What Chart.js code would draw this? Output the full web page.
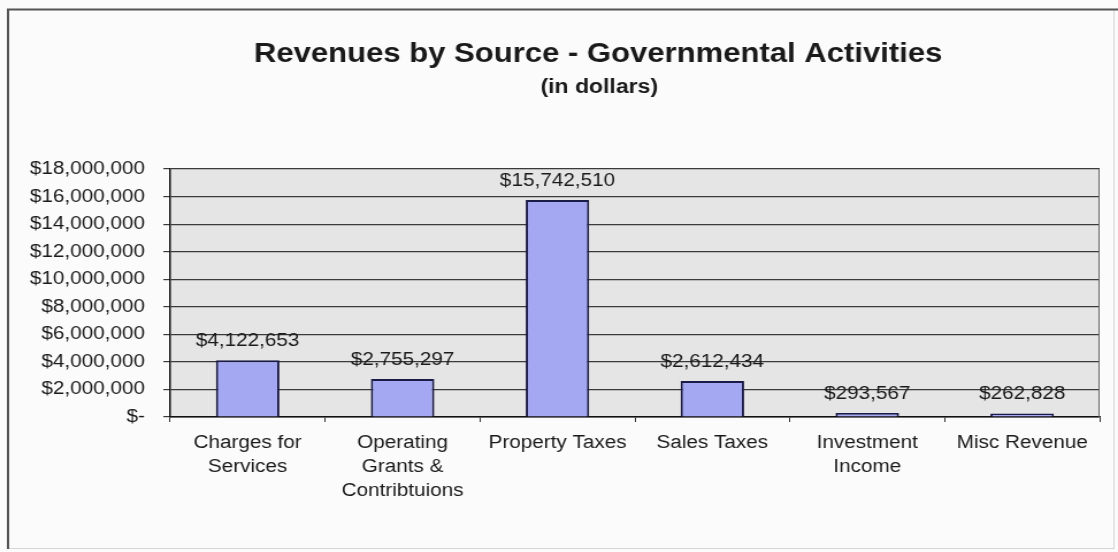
<!DOCTYPE html>
<html>
<head>
<meta charset="utf-8">
<title>Revenues by Source - Governmental Activities</title>
<script src="https://cdn.jsdelivr.net/npm/chart.js@4/dist/chart.umd.min.js"></script>
<style>
  html, body { margin: 0; padding: 0; background: #fbfbfb; }
  #revenue-chart { display: block; }
</style>
</head>
<body>
<!-- canvas is drawn narrow and widened by CSS, like the printed sheet -->
<canvas id="revenue-chart" width="972" height="552" style="width:1118px;height:552px"></canvas>
<script>
// Revenue categories and amounts (dollars)
const categories = [
  ['Charges for', 'Services'],
  ['Operating', 'Grants &', 'Contribtuions'],
  'Property Taxes',
  'Sales Taxes',
  ['Investment', 'Income'],
  'Misc Revenue'
];
const revenues = [4122653, 2755297, 15742510, 2612434, 293567, 262828];
const yTicks = [0, 2000000, 4000000, 6000000, 8000000, 10000000, 12000000, 14000000, 16000000, 18000000];

const FONT = "'Liberation Sans', Arial, sans-serif";
const TEXT = '#1a1a1a';

const money = v => v === 0 ? '$-' : '$' + v.toLocaleString('en-US');

// page frame + grey plot background, drawn before the scales
const backdrop = {
  id: 'backdrop',
  beforeDraw(chart) {
    const { ctx, chartArea: a, width, height } = chart;
    ctx.save();
    ctx.fillStyle = '#fbfbfb';
    ctx.fillRect(0, 0, width, height);

    ctx.strokeStyle = '#d6d6d6';
    ctx.lineWidth = 1;
    ctx.strokeRect(7.5, 9.5, 961, 539);
    ctx.strokeStyle = '#555';
    ctx.lineWidth = 2;
    ctx.beginPath();
    ctx.moveTo(7, 549);
    ctx.lineTo(7, 9.5);
    ctx.lineTo(width, 9.5);
    ctx.stroke();

    ctx.fillStyle = '#e5e5e5';
    ctx.fillRect(a.left, a.top, a.right - a.left, a.bottom - a.top);
    ctx.restore();
  }
};

// headings, plot edge and value labels
const overlay = {
  id: 'overlay',
  afterDraw(chart) {
    const { ctx, chartArea: a } = chart;
    ctx.save();
    ctx.strokeStyle = '#666';
    ctx.lineWidth = 1;
    ctx.beginPath();
    ctx.moveTo(a.right - 0.5, a.top);
    ctx.lineTo(a.right - 0.5, a.bottom);
    ctx.stroke();

    ctx.fillStyle = TEXT;
    ctx.textAlign = 'center';
    ctx.textBaseline = 'alphabetic';
    ctx.font = 'bold 27px ' + FONT;
    ctx.fillText('Revenues by Source - Governmental Activities', 520, 62);
    ctx.font = 'bold 20px ' + FONT;
    ctx.fillText('(in dollars)', 521, 93);

    ctx.font = '18px ' + FONT;
    ctx.textBaseline = 'middle';
    chart.getDatasetMeta(0).data.forEach((bar, i) => {
      ctx.fillText(money(revenues[i]), bar.x, bar.y - 19);
    });
    ctx.restore();
  }
};

new Chart(document.getElementById('revenue-chart'), {
  type: 'bar',
  data: {
    labels: categories,
    datasets: [{
      data: revenues,
      backgroundColor: '#a4a7f1',
      borderColor: '#1b1b48',
      borderWidth: 2,
      borderSkipped: 'bottom',
      barPercentage: 1,
      categoryPercentage: 0.41
    }]
  },
  options: {
    responsive: false,
    animation: false,
    layout: { padding: { top: 169, right: 16, left: 0, bottom: 0 } },
    plugins: { legend: { display: false }, tooltip: { enabled: false } },
    scales: {
      x: {
        grid: { drawOnChartArea: false, offset: true, tickLength: 5, color: '#333' },
        border: { color: '#111', width: 1.5 },
        ticks: {
          font: { family: FONT, size: 18, lineHeight: 1.34 },
          color: TEXT, padding: 9, maxRotation: 0, autoSkip: false
        },
        afterFit(scale) { scale.height = 135; }
      },
      y: {
        min: yTicks[0],
        max: yTicks[yTicks.length - 1],
        afterBuildTicks(scale) { scale.ticks = yTicks.map(v => ({ value: v })); },
        grid: { color: '#3a3a3a', lineWidth: 1.2, tickLength: 6 },
        border: { color: '#111', width: 1.5 },
        ticks: {
          font: { family: FONT, size: 18 },
          color: TEXT, padding: 16,
          callback: v => money(v)
        },
        afterFit(scale) { scale.width = 148; }
      }
    }
  },
  plugins: [backdrop, overlay]
});
</script>
</body>
</html>
